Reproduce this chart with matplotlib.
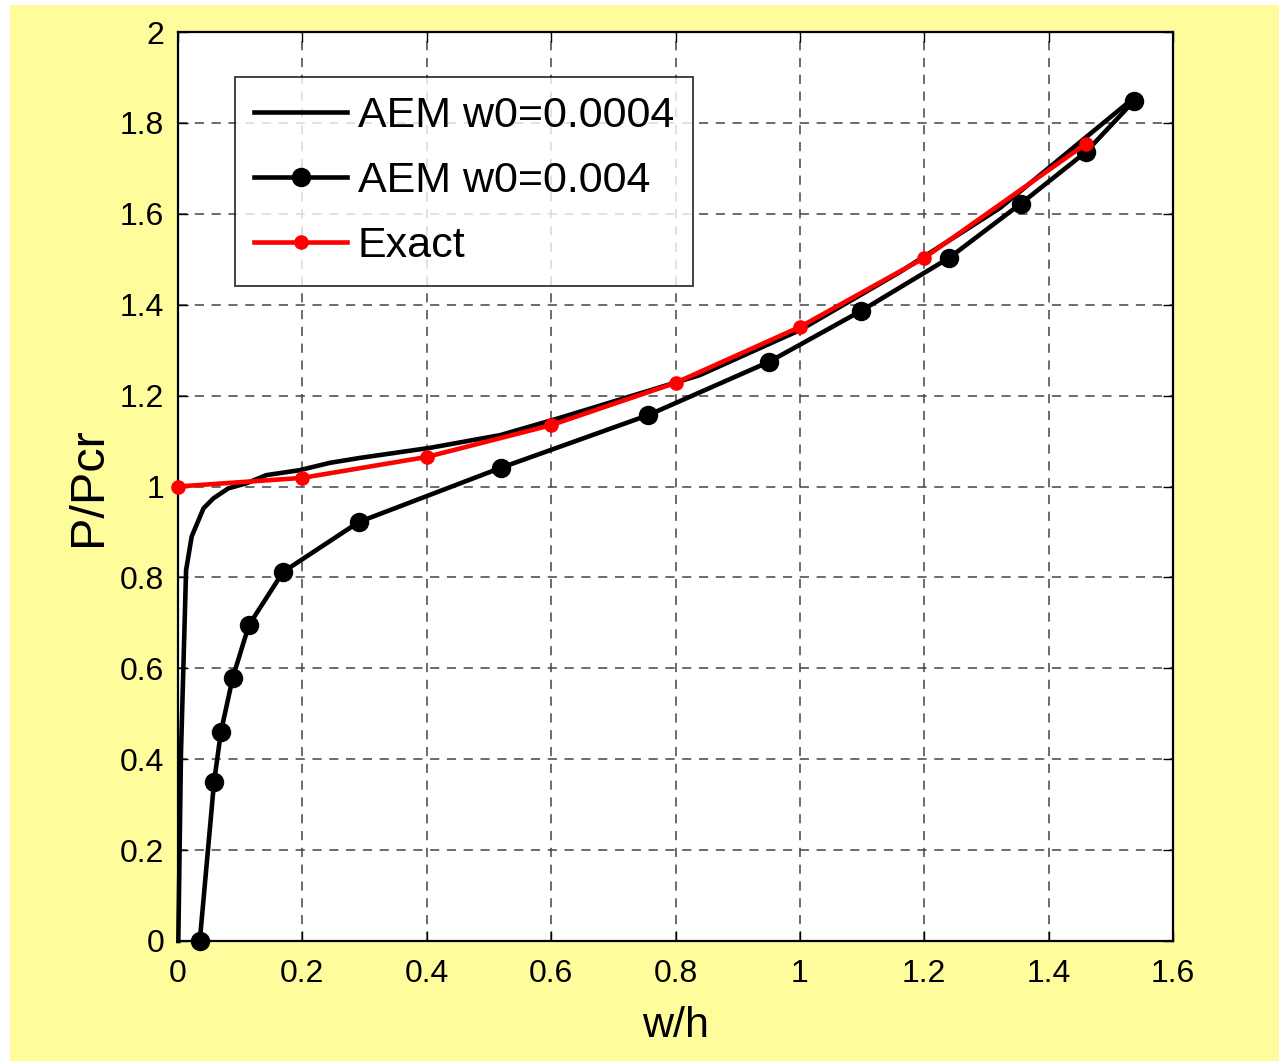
import matplotlib
matplotlib.use("Agg")
import matplotlib.pyplot as plt
from matplotlib.patches import Rectangle

plt.rcParams['font.family'] = ['Liberation Sans', 'DejaVu Sans']

# AEM solution, initial imperfection w0 = 0.0004 (plain line)
w_fine = [0.0005, 0.0048, 0.013, 0.022, 0.041, 0.057, 0.081, 0.110, 0.142,
          0.196, 0.244, 0.293, 0.405, 0.518, 0.614, 0.839, 1.000, 1.161,
          1.322, 1.537]
p_fine = [0.0, 0.414, 0.816, 0.890, 0.952, 0.974, 0.996, 1.007, 1.025,
          1.036, 1.052, 1.063, 1.085, 1.113, 1.151, 1.245, 1.344, 1.472,
          1.613, 1.855]

# AEM solution, initial imperfection w0 = 0.004 (line with dots)
w_coarse = [0.035, 0.058, 0.069, 0.088, 0.114, 0.169, 0.291, 0.519, 0.756,
            0.950, 1.098, 1.240, 1.355, 1.460, 1.537]
p_coarse = [0.0, 0.35, 0.46, 0.579, 0.695, 0.812, 0.922, 1.041, 1.157,
            1.274, 1.386, 1.503, 1.622, 1.736, 1.848]

# Exact solution
w_exact = [0.0, 0.2, 0.4, 0.6, 0.8, 1.0, 1.2, 1.46]
p_exact = [1.0, 1.019, 1.065, 1.135, 1.228, 1.351, 1.503, 1.754]

x_ticks = [0, 0.2, 0.4, 0.6, 0.8, 1.0, 1.2, 1.4, 1.6]
x_tick_labels = ['0', '0.2', '0.4', '0.6', '0.8', '1', '1.2', '1.4', '1.6']
y_ticks = [0, 0.2, 0.4, 0.6, 0.8, 1.0, 1.2, 1.4, 1.6, 1.8, 2.0]
y_tick_labels = ['0', '0.2', '0.4', '0.6', '0.8', '1', '1.2', '1.4', '1.6', '1.8', '2']

W, H = 1279, 1061
fig = plt.figure(figsize=(W / 100, H / 100), dpi=100)
fig.patch.set_facecolor('white')
fig.patches.append(Rectangle((10 / W, 0), 1 - 10 / W, 1 - 5 / H,
                             transform=fig.transFigure, facecolor='#FFFD9B',
                             edgecolor='none', zorder=-10))

ax = fig.add_axes([178 / W, 1 - 941 / H, 995 / W, 909 / H])
ax.set_facecolor('white')

ax.plot(w_fine, p_fine, color='black', lw=3.3, label='AEM w0=0.0004',
        zorder=3, clip_on=False)
ax.plot(w_coarse, p_coarse, color='black', lw=3.3, marker='o', ms=13,
        mfc='black', mec='black', label='AEM w0=0.004', zorder=4, clip_on=False)
ax.plot(w_exact, p_exact, color='red', lw=3.3, marker='o', ms=9.5,
        mfc='red', mec='red', label='Exact', zorder=5, clip_on=False)

ax.set_xlim(0, 1.6)
ax.set_ylim(0, 2)
ax.set_xticks(x_ticks)
ax.set_xticklabels(x_tick_labels)
ax.set_yticks(y_ticks)
ax.set_yticklabels(y_tick_labels)
ax.tick_params(direction='in', length=7, width=1, labelsize=23,
               top=True, right=True, pad=10)
ax.tick_params(axis='x', pad=13)

ax.grid(True, color='#444444', linestyle=(0, (6, 5)), linewidth=1.1)
for s in ax.spines.values():
    s.set_linewidth(1.6)
    s.set_color('black')

ax.set_xlabel('w/h', fontsize=31, labelpad=12)
ax.set_ylabel('P/Pcr', fontsize=35, labelpad=6)

leg = ax.legend(loc='upper left', bbox_to_anchor=((235 - 178) / 995, (941 - 77) / 909),
                fontsize=31, frameon=True, fancybox=False, handlelength=2.15,
                handletextpad=0.25, borderpad=0.45, labelspacing=0.58,
                borderaxespad=0)
leg.get_frame().set_edgecolor('black')
leg.get_frame().set_linewidth(1.3)

fig.savefig('out.png', dpi=100, facecolor=fig.get_facecolor())
